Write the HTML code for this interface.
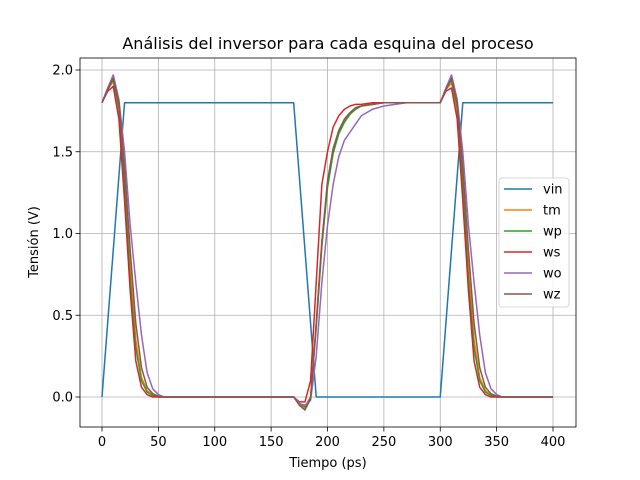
<!DOCTYPE html>
<html><head><meta charset="utf-8">
<style>
body{margin:0;background:#fff;}
svg{display:block;font-family:"DejaVu Sans","Liberation Sans",sans-serif;}
</style></head>
<body>
<svg id="chart" width="640" height="480"></svg>
<script>
const times=[0,5,10,15,20,25,30,35,40,45,50,55,60,170,175,180,185,190,195,200,205,210,215,220,225,230,240,250,260,270,300,305,310,315,320,325,330,335,340,345,350,355,360,400];
const vinT=[0,20,170,190,300,320,400];
const vinV=[0,1.8,1.8,0,0,1.8,1.8];
const fallTm=[1.8,1.88,1.93,1.75,1.3,0.8,0.35,0.12,0.04,0.01,0,0,0];
const fallWp=[1.8,1.88,1.94,1.77,1.3,0.72,0.3,0.1,0.03,0.01,0,0,0];
const fallWs=[1.8,1.87,1.9,1.7,1.2,0.65,0.22,0.06,0.015,0,0,0,0];
const fallWo=[1.8,1.89,1.97,1.82,1.5,1.05,0.7,0.38,0.15,0.05,0.015,0,0];
const fallWz=[1.8,1.88,1.95,1.8,1.4,0.9,0.45,0.18,0.06,0.02,0.005,0,0];
const riseTm=[0,-0.04,-0.07,0.0,0.45,0.95,1.3,1.5,1.62,1.69,1.73,1.76,1.78,1.79,1.8,1.8,1.8];
const riseWp=[0,-0.04,-0.06,0.0,0.42,0.92,1.28,1.49,1.61,1.68,1.73,1.76,1.78,1.79,1.8,1.8,1.8];
const riseWs=[0,-0.03,-0.03,0.1,0.7,1.3,1.5,1.65,1.72,1.76,1.78,1.79,1.79,1.8,1.8,1.8,1.8];
const riseWo=[0,-0.04,-0.05,-0.02,0.25,0.7,1.05,1.3,1.47,1.57,1.62,1.67,1.72,1.76,1.78,1.79,1.8];
const riseWz=[0,-0.05,-0.08,-0.01,0.45,0.95,1.32,1.52,1.63,1.7,1.74,1.77,1.78,1.79,1.8,1.8,1.8];
const tailV=[0];
const names=["tm","wp","ws","wo","wz"];
const colors={vin:"#1f77b4",tm:"#ff7f0e",wp:"#2ca02c",ws:"#d62728",wo:"#9467bd",wz:"#8c564b"};
const xTicks=[0,50,100,150,200,250,300,350,400];
const yTicks=[0.0,0.5,1.0,1.5,2.0];

const L=80,R=576,T=58,B=427;
const X=t=>102+(t/400)*451;
const Y=v=>397-(v/2.0)*327;
const NS="http://www.w3.org/2000/svg";
const svg=document.getElementById("chart");
function mk(tag,attrs,parent){const e=document.createElementNS(NS,tag);for(const k in attrs)e.setAttribute(k,attrs[k]);(parent||svg).appendChild(e);return e;}

const series={
 tm:[...fallTm,...riseTm,...fallTm.map((v,i)=>i==2?1.92:v),...tailV],
 wp:[...fallWp,...riseWp,...fallWp,...tailV],
 ws:[...fallWs,...riseWs,...fallWs.map((v,i)=>i==2?1.89:v),...tailV],
 wo:[...fallWo,...riseWo,...fallWo,...tailV],
 wz:[...fallWz,...riseWz,...fallWz,...tailV]
};

mk("rect",{x:0,y:0,width:640,height:480,fill:"#fff"});
const grid=mk("g",{});


xTicks.forEach(t=>{
 mk("line",{x1:X(t),x2:X(t),y1:T,y2:B,stroke:"#b0b0b0","stroke-width":0.8},grid);
 mk("line",{x1:X(t),x2:X(t),y1:B,y2:B+4.5,stroke:"#000","stroke-width":0.8});
 const tx=mk("text",{x:X(t),y:B+19,"text-anchor":"middle","font-size":13});
 tx.textContent=t;
 
 
});
yTicks.forEach(v=>{
 mk("line",{x1:L,x2:R,y1:Y(v),y2:Y(v),stroke:"#b0b0b0","stroke-width":0.8},grid);
 mk("line",{x1:L-4.5,x2:L,y1:Y(v),y2:Y(v),stroke:"#000","stroke-width":0.8});
 const tx=mk("text",{x:L-7,y:Y(v)+4.5,"text-anchor":"end","font-size":13});
 tx.textContent=v.toFixed(1);
 
 
});
function line(ts,vs,c,name){
 const p=mk("polyline",{points:ts.map((t,i)=>X(t)+","+Y(vs[i])).join(" "),fill:"none",stroke:c,"stroke-width":1.5,"stroke-linejoin":"round"});
 
 
}
line(vinT,vinV,colors.vin,"series-vin");
names.forEach(n=>line(times,series[n],colors[n],"series-"+n));
mk("rect",{x:L,y:T,width:R-L,height:B-T,fill:"none",stroke:"#000","stroke-width":0.8});

const title=mk("text",{x:328,y:49,"text-anchor":"middle","font-size":16});
title.textContent="Análisis del inversor para cada esquina del proceso";


const xl=mk("text",{x:328,y:467,"text-anchor":"middle","font-size":13});
xl.textContent="Tiempo (ps)";


const yl=mk("text",{x:38,y:242,"text-anchor":"middle","font-size":13,transform:"rotate(-90 38 242)"});
yl.textContent="Tensión (V)";



const lg=mk("g",{});


mk("rect",{x:499,y:178,width:70,height:129,rx:3,fill:"#fff","fill-opacity":0.8,stroke:"#ccc","stroke-width":0.8},lg);
["vin",...names].forEach((n,i)=>{
 const y=189+i*21;
 const e=mk("g",{},lg);
 
 
 mk("line",{x1:504,x2:532,y1:y,y2:y,stroke:colors[n],"stroke-width":1.5},e);
 const t=mk("text",{x:543,y:y+4.5,"font-size":13},e);
 t.textContent=n;
});
</script>
</body></html>
